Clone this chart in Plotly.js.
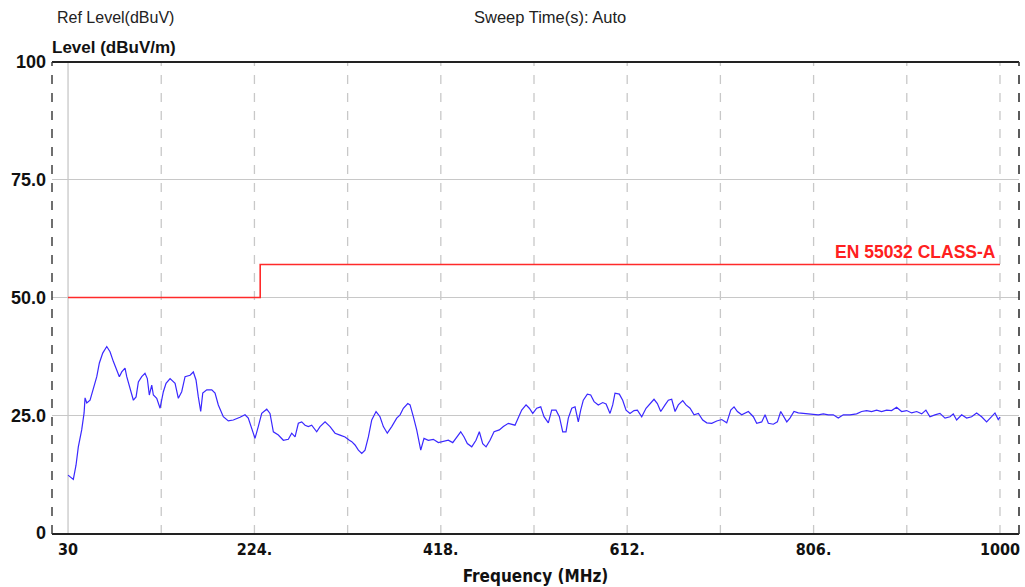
<!DOCTYPE html>
<html>
<head>
<meta charset="utf-8">
<script src="https://cdn.plot.ly/plotly-3.0.1.min.js"></script>
<style>html,body{margin:0;padding:0;background:#fff;}#chart{width:1025px;height:587px;}</style>
</head>
<body>
<div id="chart"></div>
<script>
// Measured emission trace (MHz, dBuV/m)
const freq = [30,35.5,38.3,40.7,44.2,46.7,47.7,49.5,52.9,56.3,59.9,62.6,66.1,70.3,73.7,77.2,80.7,83.4,85.9,89.3,91.1,94.5,98,100.8,103.2,106.7,110.1,112.5,114.6,117.1,118.8,122.3,125.8,129.2,132,136.2,141.4,144.8,148.3,151.8,157,160.4,163.2,165.6,168.1,170.2,174.4,179.6,183,186.4,191.6,196.8,202,209,214.2,217.6,221.2,224.6,228,231.6,236.8,240.2,243.7,248.9,254.1,259.3,262.8,266.3,269.7,273.2,276.7,280.1,283.6,288.8,292.3,297.5,302.7,307.9,313.1,318.3,322.8,325.3,328.7,332.2,335.7,339.1,342.6,346.1,350.6,354.7,358.2,362.3,366.9,372.1,375.6,379,383.6,386,389.4,392.9,397.1,400.5,405,410.2,415.4,420.6,425.8,430.4,434.5,438.7,442.2,445.6,450.2,454.6,458.1,461.6,465.1,469.2,473.4,478.9,483.1,488.3,495.2,498.7,502.2,506.7,510.1,513.7,517.8,522,525.4,529.9,533.4,537.9,541.4,544.9,548.3,550.7,554.3,557.7,561.1,563.6,566.3,570.5,574,577.5,581.9,586.5,590,594.1,596.9,599.3,603.8,607.3,610.8,614.9,619.1,622.6,627.1,631.6,635.7,639.9,643.4,646.9,651.4,654.8,658.3,661.8,665.2,669.8,673.2,677.4,681.6,686.1,690.6,694.8,700,705.2,710.4,715.6,719.8,723.2,726.7,731.2,738.1,743.3,746.8,752,755.5,758.9,764.1,768.3,771.8,775.3,778.1,781.4,785.6,790.1,795.3,800.5,805.7,810.9,816.1,821.3,826.5,831.7,836.9,843.8,850.8,856,861.2,866.4,871.6,876.8,882,887.2,892.4,897.6,902.9,908.1,913.3,918.5,922.9,927.1,932.3,937.5,942.8,948,951.4,954.9,960.1,965.3,970.5,975.7,980.9,986.1,991.3,994.8,998.2,1000];
const level = [12.3,11.4,14.4,18.3,21.9,25.5,28.7,27.6,28.2,30.8,33.2,36.1,38.2,39.6,38.5,36.4,34.6,33.2,34.2,35.0,33.2,30.7,28.2,28.9,32.1,33.2,33.9,32.8,29.3,31.4,29.3,28.6,26.5,30.0,31.8,32.8,31.8,28.6,30.0,33.2,33.5,34.2,32.5,28.9,25.8,29.7,30.4,30.4,29.7,27.2,24.7,23.8,24.0,24.6,25.1,24.4,21.9,20.1,22.6,25.4,26.3,25.4,21.5,20.8,19.7,19.9,21.2,20.4,23.3,23.6,22.9,22.6,22.9,21.5,22.6,23.6,22.6,21.2,20.8,20.4,19.7,19.4,18.7,17.6,16.9,17.6,20.4,24.0,25.8,24.7,22.6,21.2,22.6,24.4,25.1,26.5,27.5,27.2,24.7,21.9,17.6,20.1,19.7,19.9,19.2,19.4,19.7,19.2,20.4,21.5,20.4,19.0,18.3,19.7,21.5,19.0,18.3,19.7,21.5,21.9,22.6,23.3,22.9,24.7,26.1,27.2,26.5,25.4,26.5,26.8,24.7,23.4,26.1,26.1,24.7,21.5,21.5,24.4,26.5,26.8,23.6,26.1,28.2,29.5,29.3,27.9,27.2,27.7,27.4,25.4,27.2,29.7,29.5,28.2,26.1,25.4,26.0,26.1,24.7,26.5,27.5,28.4,27.5,25.8,27.2,28.2,28.4,25.8,27.2,28.1,27.2,26.5,25.1,25.4,24.0,23.4,23.3,23.8,24.1,23.4,26.1,26.8,25.8,25.1,25.8,24.7,23.3,23.6,25.1,23.3,23.1,23.6,25.8,24.7,23.6,24.4,25.8,25.5,25.4,25.3,25.3,25.1,25.3,25.1,25.1,24.4,25.1,25.1,25.3,25.8,26.0,25.8,26.1,25.8,26.1,26.0,26.7,25.8,26.0,25.5,25.8,25.3,26.1,24.7,25.1,25.4,24.4,24.7,25.3,24.0,25.1,24.4,24.7,25.5,24.7,23.6,24.7,25.5,24.1,24.6];

// EN 55032 Class A limit line
const limitFreq = [30, 230, 230, 1000];
const limitLevel = [50, 50, 57, 57];
const limitName = "EN 55032 CLASS-A";

// Axis ticks
const xGridVals = [30,127,224,321,418,515,612,709,806,903,1000];
const xTickText = ["30","","224.","","418.","","612.","","806.","","1000"];
const yTickVals = [0,25,50,75,100];
const yTickText = ["0","25.0","50.0","75.0","100"];

const boldFont = "'Liberation Sans Narrow', 'DejaVu Sans Condensed', 'Liberation Sans', Arial, sans-serif";
const plainFont = "'Liberation Sans', Arial, sans-serif";

const traces = [
  {x: freq, y: level, type: 'scatter', mode: 'lines', line: {color: '#3a28ff', width: 1.2}, hoverinfo: 'skip'},
  {x: limitFreq, y: limitLevel, type: 'scatter', mode: 'lines', line: {color: '#ff2a2a', width: 1.6}, hoverinfo: 'skip'}
];

const vShapes = xGridVals.map(v => ({
  type: 'line', xref: 'x', yref: 'paper', x0: v, x1: v, y0: 0, y1: 1,
  line: {color: '#c8c8c8', width: 1.3, dash: v === 30 ? 'solid' : 'dash'}, layer: 'below'
}));

const layout = {
  width: 1025, height: 587,
  margin: {l: 52, r: 6, t: 62, b: 53},
  paper_bgcolor: '#ffffff', plot_bgcolor: '#ffffff',
  showlegend: false,
  xaxis: {
    range: [13.3, 1019.8], tickmode: 'array', tickvals: xGridVals, ticktext: xTickText,
    showgrid: false, zeroline: false, showline: false, ticks: '',
    ticklabelstandoff: 4,
    tickfont: {family: boldFont, size: 16, color: '#111', weight: 'bold'},
    title: {text: 'Frequency (MHz)', font: {family: boldFont, size: 17, color: '#111', weight: 'bold'}, standoff: 12}
  },
  yaxis: {
    range: [-0.2, 100], tickmode: 'array', tickvals: yTickVals, ticktext: yTickText,
    showgrid: true, gridcolor: '#c8c8c8', gridwidth: 1.3, zeroline: false, showline: false, ticks: '',
    ticklabelstandoff: 5,
    tickfont: {family: plainFont, size: 18, color: '#111', weight: 'bold'}
  },
  shapes: vShapes.concat([
    {type: 'line', xref: 'paper', yref: 'paper', x0: 0, x1: 1, y0: 1, y1: 1, line: {color: '#222', width: 2.2}},
    {type: 'line', xref: 'paper', yref: 'paper', x0: 0, x1: 1, y0: 0, y1: 0, line: {color: '#222', width: 2}},
    {type: 'line', xref: 'paper', yref: 'paper', x0: 0, x1: 0, y0: 0, y1: 1, line: {color: '#333', width: 1.4, dash: 'dash'}},
    {type: 'line', xref: 'paper', yref: 'paper', x0: 1, x1: 1, y0: 0, y1: 1, line: {color: '#333', width: 1.6, dash: 'dash'}}
  ]),
  annotations: [
    {text: 'Ref Level(dBuV)', xref: 'paper', yref: 'paper', x: 0, y: 1, xanchor: 'left', yanchor: 'middle', xshift: 3, yshift: 45, showarrow: false,
     font: {family: plainFont, size: 16, color: '#222'}},
    {text: 'Sweep Time(s): Auto', xref: 'paper', yref: 'paper', x: 0.515, y: 1, xanchor: 'center', yanchor: 'middle', yshift: 45, showarrow: false,
     font: {family: plainFont, size: 16.5, color: '#222'}},
    {text: 'Level (dBuV/m)', xref: 'paper', yref: 'paper', x: 0, y: 1, xanchor: 'left', yanchor: 'middle', xshift: -2, yshift: 15, showarrow: false,
     font: {family: plainFont, size: 17, color: '#111', weight: 'bold'}},
    {text: limitName, xref: 'x', yref: 'y', x: 998, y: 57, xanchor: 'right', yanchor: 'bottom', yshift: 1, showarrow: false,
     font: {family: plainFont, size: 17.5, color: '#ff2020', weight: 'bold'}}
  ]
};

Plotly.newPlot('chart', traces, layout, {displayModeBar: false, staticPlot: true});
</script>
</body>
</html>
